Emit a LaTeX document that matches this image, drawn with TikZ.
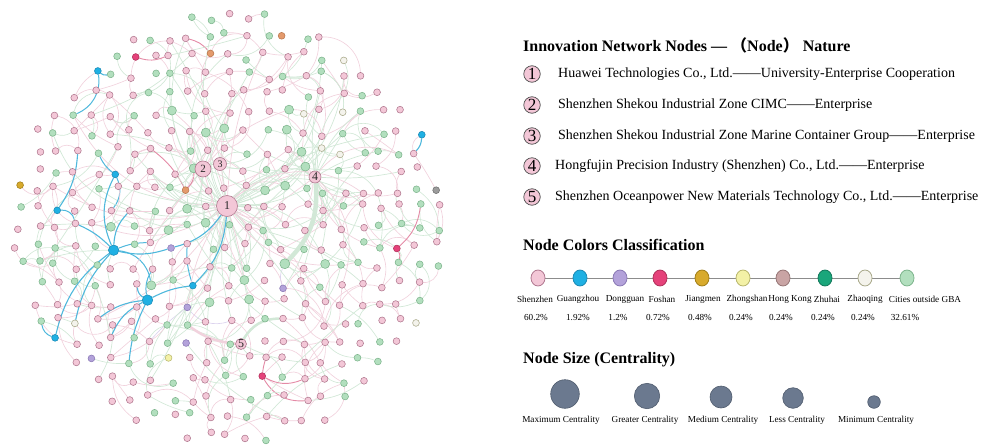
\documentclass[tikz,border=0pt]{standalone}
\usepackage{fontspec}
\setmainfont{Liberation Serif}
\newfontfamily\cjk{Noto Sans CJK SC}
\usetikzlibrary{backgrounds, shapes.geometric}

% city colours: fill, border, edge
\definecolor{szfill}{HTML}{F3C7D7}\definecolor{szline}{HTML}{B0788F}\definecolor{szedge}{HTML}{F1D2DD}
\definecolor{gbafill}{HTML}{B2DFBE}\definecolor{gbaline}{HTML}{7DB48C}\definecolor{gbaedge}{HTML}{D2E8D7}
\definecolor{gzfill}{HTML}{1FB0E3}\definecolor{gzline}{HTML}{1B8AB5}\definecolor{gzedge}{HTML}{4FB8DC}
\definecolor{dgfill}{HTML}{B3A2DA}\definecolor{dgline}{HTML}{8A79B5}\definecolor{dgedge}{HTML}{DCD3EE}
\definecolor{fsfill}{HTML}{E5427A}\definecolor{fsline}{HTML}{B0305A}\definecolor{fsedge}{HTML}{E48AA6}
\definecolor{jmfill}{HTML}{D8AA2C}\definecolor{jmline}{HTML}{A07E18}
\definecolor{zsfill}{HTML}{F3F1A6}\definecolor{zsline}{HTML}{B8B66C}
\definecolor{hkfill}{HTML}{C9A4A4}\definecolor{hkline}{HTML}{967676}
\definecolor{zhfill}{HTML}{1AA67B}\definecolor{zhline}{HTML}{12785A}
\definecolor{zqfill}{HTML}{F4F3EC}\definecolor{zqline}{HTML}{A9A98A}
\definecolor{ogfill}{HTML}{E49A6C}\definecolor{ogline}{HTML}{B9754B}
\definecolor{grfill}{HTML}{9C9C9C}\definecolor{grline}{HTML}{707070}
\definecolor{sizefill}{HTML}{6B798F}\definecolor{sizeline}{HTML}{4F5B6D}

\newcommand\headfont{\fontsize{16}{19}\selectfont\bfseries}
\newcommand\itemfont{\fontsize{14}{16}\selectfont}
\newcommand\legfont{\fontsize{9.2}{11}\selectfont}

% cells with a rarer city colour, and cells left free for the hubs
\newcommand\setkind[3]{\expandafter\gdef\csname kind-#1-#2\endcsname{#3}}
\newcommand\sethub[2]{\expandafter\gdef\csname hub-#1-#2\endcsname{}}
\setkind{7}{3}{fs}\setkind{21}{13}{fs}\setkind{14}{20}{fs}
\setkind{11}{3}{og}\setkind{15}{2}{og}\setkind{10}{10}{og}
\setkind{5}{4}{gz}\setkind{6}{9}{gz}\setkind{3}{11}{gz}\setkind{22}{7}{gz}
\setkind{3}{18}{gz}\setkind{10}{15}{gz}
\setkind{6}{13}{gzbig}\setkind{8}{16}{gzbig}
\setkind{1}{10}{jm}
\setkind{9}{13}{dg}\setkind{10}{16}{dg}\setkind{10}{18}{dg}\setkind{5}{19}{dg}\setkind{15}{15}{dg}
\setkind{9}{19}{zs}
\setkind{23}{10}{gr}
\setkind{4}{17}{zq}\setkind{22}{17}{zq}\setkind{18}{3}{zq}\setkind{16}{6}{zq}
\setkind{18}{6}{zq}\setkind{18}{8}{zq}\setkind{17}{8}{zq}
\setkind{15}{14}{gbabig}
\sethub{12}{11}\sethub{11}{9}\sethub{12}{9}\sethub{17}{9}\sethub{13}{18}

\begin{document}
\begin{tikzpicture}[x=1pt, y=-1pt]
  \tikzstyle{vertex}=[circle, draw, inner sep=0pt, line width=0.55pt]
  \tikzstyle{sz}=[vertex, fill=szfill, draw=szline]
  \tikzstyle{gba}=[vertex, fill=gbafill, draw=gbaline]
  \tikzstyle{gbabig}=[gba, minimum size=10pt]
  \tikzstyle{gz}=[vertex, fill=gzfill, draw=gzline]
  \tikzstyle{gzbig}=[gz, minimum size=10.5pt]
  \tikzstyle{dg}=[vertex, fill=dgfill, draw=dgline]
  \tikzstyle{fs}=[vertex, fill=fsfill, draw=fsline]
  \tikzstyle{jm}=[vertex, fill=jmfill, draw=jmline]
  \tikzstyle{zs}=[vertex, fill=zsfill, draw=zsline]
  \tikzstyle{hk}=[vertex, fill=hkfill, draw=hkline]
  \tikzstyle{zh}=[vertex, fill=zhfill, draw=zhline]
  \tikzstyle{zq}=[vertex, fill=zqfill, draw=zqline]
  \tikzstyle{og}=[vertex, fill=ogfill, draw=ogline]
  \tikzstyle{gr}=[vertex, fill=grfill, draw=grline]
  \tikzstyle{hub}=[circle, draw=szline, fill=szfill, inner sep=0pt, line width=0.6pt, text=black!85]
  \tikzstyle{esz}=[draw=szedge, line width=0.65pt]
  \tikzstyle{egba}=[draw=gbaedge, line width=0.65pt]
  \tikzstyle{egbabig}=[egba]
  \tikzstyle{egz}=[draw=gzedge, line width=1pt]
  \tikzstyle{egzbig}=[egz]
  \tikzstyle{edg}=[draw=dgedge, line width=0.65pt]
  \tikzstyle{efs}=[draw=fsedge, line width=0.9pt]
  \tikzstyle{ejm}=[esz]
  \tikzstyle{ezs}=[egba]
  \tikzstyle{ezq}=[egba]
  \tikzstyle{eog}=[efs]
  \tikzstyle{egr}=[esz]
  \tikzstyle{hubedge}=[line width=0.7pt]
  \tikzstyle{blueedge}=[draw=gzedge, line width=1.1pt]
  \tikzstyle{head}=[anchor=west, inner sep=0pt, font=\headfont]
  \useasboundingbox (0,0) rectangle (981,444);

  % network nodes on a jittered grid inside the disc
  \pgfmathsetseed{4127}
  \foreach \a in {0,...,24}{
    \foreach \b in {0,...,24}{
      \pgfmathtruncatemacro\inside{(\a-12)^2+(\b-12)^2<=127}
      \ifnum\inside=1
        \ifcsname hub-\a-\b\endcsname\else
          \pgfmathsetmacro\px{228+19*(\a-12)+4.5*rand}
          \pgfmathsetmacro\py{227+19*(\b-12)+4.5*rand}
          \def\dsize{6.8pt}
          \ifcsname kind-\a-\b\endcsname
            \edef\kind{\csname kind-\a-\b\endcsname}
          \else
            \pgfmathtruncatemacro\isgba{rnd>0.63}
            \ifnum\isgba=1 \def\kind{gba}\else\def\kind{sz}\fi
            % green nodes near the centre are drawn larger
            \pgfmathtruncatemacro\large{\isgba && ((\a-12)^2+(\b-11)^2<40) && rnd>0.55}
            \ifnum\large=1 \def\dsize{9pt}\fi
          \fi
          \node[minimum size=\dsize, \kind] (n\a x\b) at (\px,\py) {};
          \expandafter\xdef\csname ec-\a-\b\endcsname{\kind}
        \fi
      \fi
    }
  }

  % hubs
  \node[hub, minimum size=21pt, font=\fontsize{12}{12}\selectfont] (h1) at (227,206) {1};
  \node[hub, minimum size=16pt, font=\fontsize{11}{11}\selectfont] (h2) at (203,169) {2};
  \node[hub, minimum size=13pt, font=\fontsize{10}{10}\selectfont] (h3) at (220,164) {3};
  \node[hub, minimum size=12pt, font=\fontsize{12}{12}\selectfont] (h4) at (315,177) {4};
  \node[hub, minimum size=11pt, font=\fontsize{12}{12}\selectfont] (h5) at (241,344) {5};

  \begin{pgfonlayer}{background}
    \foreach \a in {0,...,24}{
      \foreach \b in {0,...,24}{
        \ifcsname ec-\a-\b\endcsname
          \edef\kind{\csname ec-\a-\b\endcsname}
          % short links to nearby cells
          \foreach \p in {1.0,0.3}{
            \pgfmathtruncatemacro\ta{\a+random(-2,2)}
            \pgfmathtruncatemacro\tb{\b+random(-2,2)}
            \pgfmathtruncatemacro\bend{random(-50,50)}
            \pgfmathtruncatemacro\skip{(\ta==\a)&&(\tb==\b) || rnd>\p}
            \ifnum\skip=0
              \ifcsname ec-\ta-\tb\endcsname
                \draw[e\kind] (n\a x\b) to[bend left=\bend] (n\ta x\tb);
              \fi
            \fi
          }
          % long arcs across the disc, mostly pale green
          \pgfmathtruncatemacro\far{rnd<0.14}
          \ifnum\far=1
            \pgfmathtruncatemacro\ta{\a+random(-6,6)}
            \pgfmathtruncatemacro\tb{\b+random(-6,6)}
            \pgfmathtruncatemacro\bend{random(-35,35)}
            \pgfmathtruncatemacro\skip{(\ta==\a)&&(\tb==\b)}
            \ifnum\skip=0
              \ifcsname ec-\ta-\tb\endcsname
                \draw[egba, hubedge] (n\a x\b) to[bend left=\bend] (n\ta x\tb);
              \fi
            \fi
          \fi
          % links to the hubs
          \pgfmathtruncatemacro\pink{rnd<0.3}
          \ifnum\pink=1 \def\hk{esz}\else\def\hk{egba}\fi
          \pgfmathtruncatemacro\bend{random(-40,40)}
          \pgfmathtruncatemacro\toh{rnd<0.62-0.06*sqrt((\a-12)^2+(\b-11)^2)}
          \ifnum\toh=1 \draw[\hk, hubedge] (n\a x\b) to[bend left=\bend] (h1); \fi
          \pgfmathtruncatemacro\toh{rnd<0.34-0.045*sqrt((\a-11)^2+(\b-9)^2)}
          \ifnum\toh=1 \draw[\hk, hubedge] (n\a x\b) to[bend right=\bend] (h2); \fi
          \pgfmathtruncatemacro\toh{rnd<0.20-0.035*sqrt((\a-12)^2+(\b-9)^2)}
          \ifnum\toh=1 \draw[\hk, hubedge] (n\a x\b) to[bend left=\bend] (h3); \fi
          \pgfmathtruncatemacro\toh{rnd<0.38-0.05*sqrt((\a-17)^2+(\b-9)^2)}
          \ifnum\toh=1 \draw[\hk, hubedge] (n\a x\b) to[bend right=\bend] (h4); \fi
          \pgfmathtruncatemacro\toh{rnd<0.18-0.04*sqrt((\a-13)^2+(\b-18)^2)}
          \ifnum\toh=1 \draw[\hk, hubedge] (n\a x\b) to[bend left=\bend] (h5); \fi
        \fi
      }
    }

    % heavy links
    \draw[draw=gbaedge, line width=4.5pt] (h4) to[bend left=25] (n15x14);
    \draw[draw=gbaedge, line width=2.5pt] (h5) to[bend left=30] (n15x17);
    \draw[draw=szedge, line width=2.6pt] (n10x17) to[bend right=15] (h5);
    \draw[efs] (n7x3) to[bend right=20] (n9x3);
    \draw[efs] (n14x20) to[bend right=25] (n16x20);
    \draw[efs] (n21x13) to[bend right=20] (n22x11);

    % Guangzhou links
    \draw[blueedge] (n6x13) to[bend right=15] (n9x13);
    \draw[blueedge] (n9x13) to[bend right=20] (h1);
    \draw[blueedge] (n6x13) to[bend left=25] (n6x9);
    \draw[blueedge] (n6x13) to[bend right=20] (n3x18);
    \draw[blueedge] (n6x13) to[bend right=15] (n4x17);
    \draw[blueedge] (n6x13) to[bend left=20] (n7x11);
    \draw[blueedge] (n6x13) to[bend right=10] (n4x12);
    \draw[blueedge] (n3x11) to[bend right=15] (n4x8);
    \draw[blueedge] (n5x4) to[bend right=25] (n6x4);
    \draw[blueedge] (n22x7) to[bend left=20] (n22x8);
    \draw[blueedge] (n8x16) to[bend right=15] (n5x17);
    \draw[blueedge] (n8x16) to[bend right=20] (n6x18);
    \draw[blueedge] (n8x16) to[bend right=10] (n7x19);
    \draw[blueedge] (n8x16) to[bend left=10] (n10x15);
    \draw[blueedge] (n10x15) to[bend right=20] (h1);
    \draw[blueedge] (n8x16) to[bend left=25] (n7x15);
  \end{pgfonlayer}

  % legend: nature of the five key nodes
  \node[head] (head1) at (523,45)
    {Innovation Network Nodes — {\cjk （}Node{\cjk ）} Nature};
  \foreach \k/\y/\x/\txt in {
      1/74/558/{Huawei Technologies Co., Ltd.——University-Enterprise Cooperation},
      2/105/558/{Shenzhen Shekou Industrial Zone CIMC——Enterprise},
      3/136/558/{Shenzhen Shekou Industrial Zone Marine Container Group——Enterprise},
      4/166/555/{Hongfujin Precision Industry (Shenzhen) Co., Ltd.——Enterprise},
      5/197/555/{Shenzhen Oceanpower New Materials Technology Co., Ltd.——Enterprise}}{
    \node[circle, draw=black!70, fill=szfill, line width=0.7pt, minimum size=16.5pt,
      inner sep=0pt, font=\fontsize{17}{17}\selectfont] (key\k) at (532,\y) {\k};
    \node[anchor=west, inner sep=0pt, font=\itemfont] (txt\k) at (\x,\y) {\txt};
  }

  % legend: node colours
  \node[head] (head2) at (523,245) {Node Colors Classification};
  \foreach \i/\x/\sty/\city/\lx/\share in {
      1/538/sz/Shenzhen/535/60.2\%, 2/580/gz/Guangzhou/578/1.92\%,
      3/620/dg/Dongguan/625/1.2\%, 4/660/fs/Foshan/662/0.72\%,
      5/702/jm/Jiangmen/703/0.48\%, 6/743/zs/Zhongshan/747/0.24\%,
      7/783/hk/Hong Kong/790/0.24\%, 8/825/zh/Zhuhai/827/0.24\%,
      9/865/zq/Zhaoqing/865/0.24\%, 10/907/gba/Cities outside GBA/925/32.61\%}{
    \node[\sty, ellipse, minimum width=14pt, minimum height=16pt, line width=0.8pt] (col\i) at (\x,278) {};
    \node[font=\legfont] (city\i) at (\lx,299) {\city};
    \node[font=\legfont] (share\i) at (\x-2,318) {\share};
  }
  \begin{pgfonlayer}{background}
    \foreach \i [evaluate=\i as \j using int(\i+1)] in {1,...,9}
      \draw[black!45, line width=0.9pt] (col\i) -- (col\j);
  \end{pgfonlayer}

  % legend: node size
  \node[head] (head3) at (523,360) {Node Size (Centrality)};
  \foreach \i/\x/\y/\r/\lx/\lab in {
      1/565/394/28.6/561/Maximum Centrality, 2/647/396/25.4/645/Greater Centrality,
      3/721/397/22/723/Medium Centrality, 4/793/398/20.6/797/Less Centrality,
      5/874/402/12.6/876/Minimum Centrality}{
    \node[circle, fill=sizefill, draw=sizeline, line width=0.6pt, inner sep=0pt,
      minimum size=\r pt] (size\i) at (\x,\y) {};
    \node[font=\legfont] (sizelab\i) at (\lx,420) {\lab};
  }
\end{tikzpicture}
\end{document}
